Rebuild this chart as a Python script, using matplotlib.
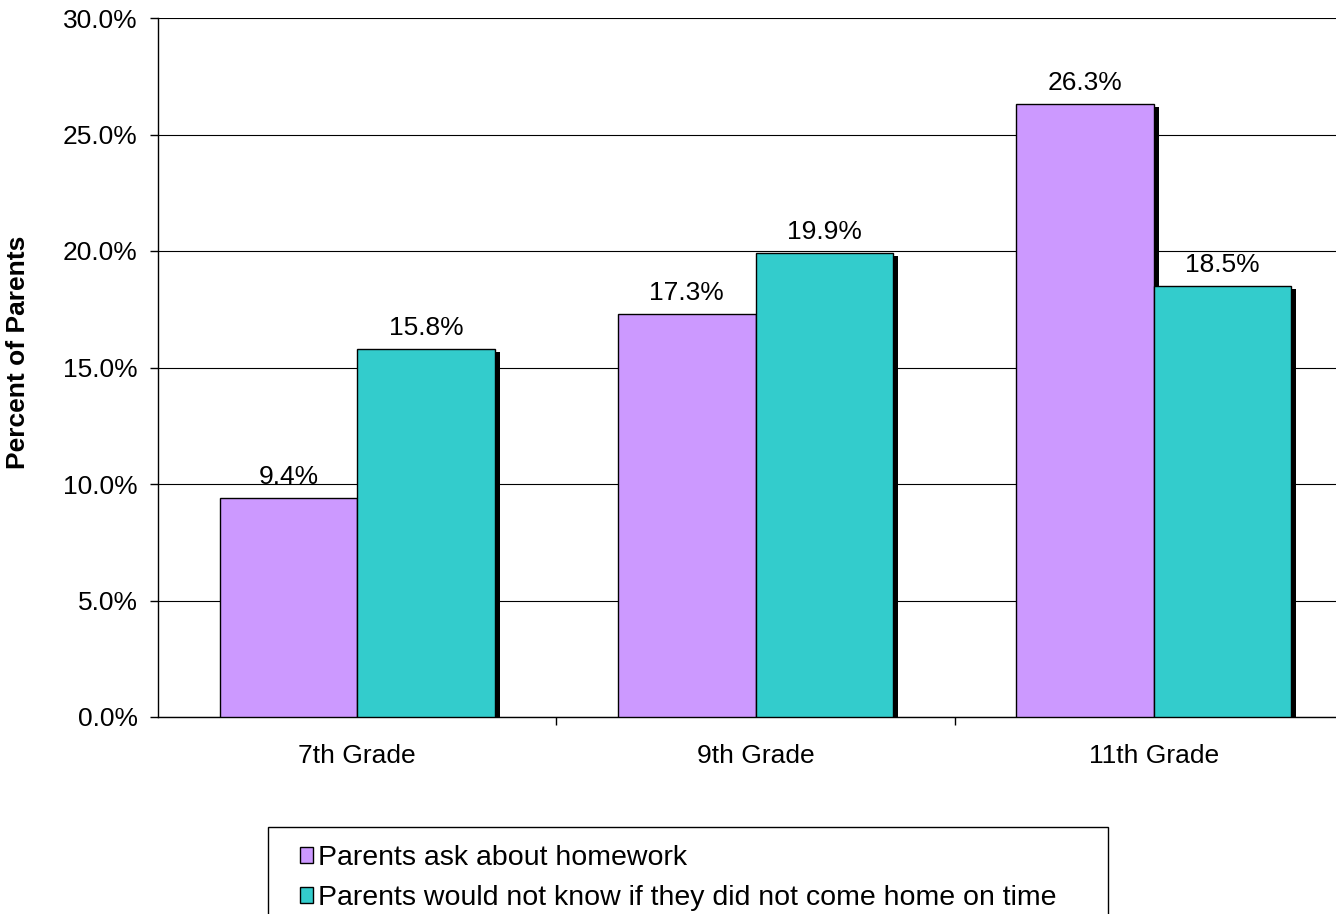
import matplotlib.pyplot as plt
import matplotlib.patches as mpatches
import numpy as np

plt.rcParams['font.family'] = ['Liberation Sans', 'DejaVu Sans']

grades = ["7th Grade", "9th Grade", "11th Grade"]
homework = [9.4, 17.3, 26.3]
not_know = [15.8, 19.9, 18.5]
series_labels = ["Parents ask about homework",
                 "Parents would not know if they did not come home on time"]
series_colors = ["#CC99FF", "#33CCCC"]

W, H = 1336, 914
fig = plt.figure(figsize=(W / 100, H / 100), dpi=100)

# axes spans past the right edge, like the original
x0, x1 = 158, 1353
y_top, y_bot = 18, 717
ax = fig.add_axes([x0 / W, 1 - y_bot / H, (x1 - x0) / W, (y_bot - y_top) / H])

fs = 19
ind = np.arange(len(grades))
width = 0.345
px = 3.0 / (x1 - x0)  # one pixel in x data units
py = 30.0 / (y_bot - y_top)  # one pixel in y data units

# shadows
for k, vals in enumerate([homework, not_know]):
  xs = ind - width + k * width + 5 * px
  ax.bar(xs, np.array(vals) - 3 * py, width, align="edge", color="black",
         zorder=2, linewidth=0)

# bars
for k, vals in enumerate([homework, not_know]):
  xs = ind - width + k * width
  ax.bar(xs, vals, width, align="edge", color=series_colors[k],
         edgecolor="black", linewidth=1.0, zorder=3, label=series_labels[k])
  for x, v in zip(xs, vals):
    ax.annotate("%.1f%%" % v, (x + width / 2, v), xytext=(0, 10),
                textcoords="offset points", ha="center", va="baseline",
                fontsize=fs, zorder=4)

ax.set_xlim(-0.5, 2.5)
ax.set_ylim(0, 30)
ax.set_yticks(np.arange(0, 31, 5))
ax.set_yticklabels(["%.1f%%" % t for t in np.arange(0, 31, 5)], fontsize=fs)
ax.yaxis.grid(True, color="black", linewidth=0.8)
ax.set_axisbelow(True)
ax.tick_params(axis="y", length=6, width=1, pad=8.6)

ax.set_xticks([0.5, 1.5])
ax.set_xticklabels([])
ax.set_xticks(ind, minor=True)
ax.set_xticklabels(grades, minor=True, fontsize=fs)
ax.tick_params(axis="x", which="major", length=6, width=1)
ax.tick_params(axis="x", which="minor", length=0, pad=19.5)

for s in ["top", "right"]:
  ax.spines[s].set_visible(False)
for s in ["left", "bottom"]:
  ax.spines[s].set_linewidth(1)

fig.text(18 / W, 1 - 352 / H, "Percent of Parents", rotation=90,
         ha="center", va="center", fontsize=fs, fontweight="bold")

# legend frame, cut off at bottom like the original
frame = mpatches.Rectangle((268 / W, -0.05), (1108 - 268) / W, 0.05 + (H - 827) / H,
                           transform=fig.transFigure, facecolor="white",
                           edgecolor="black", linewidth=1)
fig.patches.append(frame)
fig.legend(loc="upper left", bbox_to_anchor=(300 / W, 1 - 845 / H),
           frameon=False, fontsize=20.5, handlelength=0.46, handleheight=0.46,
           handletextpad=0.18, labelspacing=0.5, borderaxespad=0, borderpad=0)

fig.savefig("out.png", dpi=100)
